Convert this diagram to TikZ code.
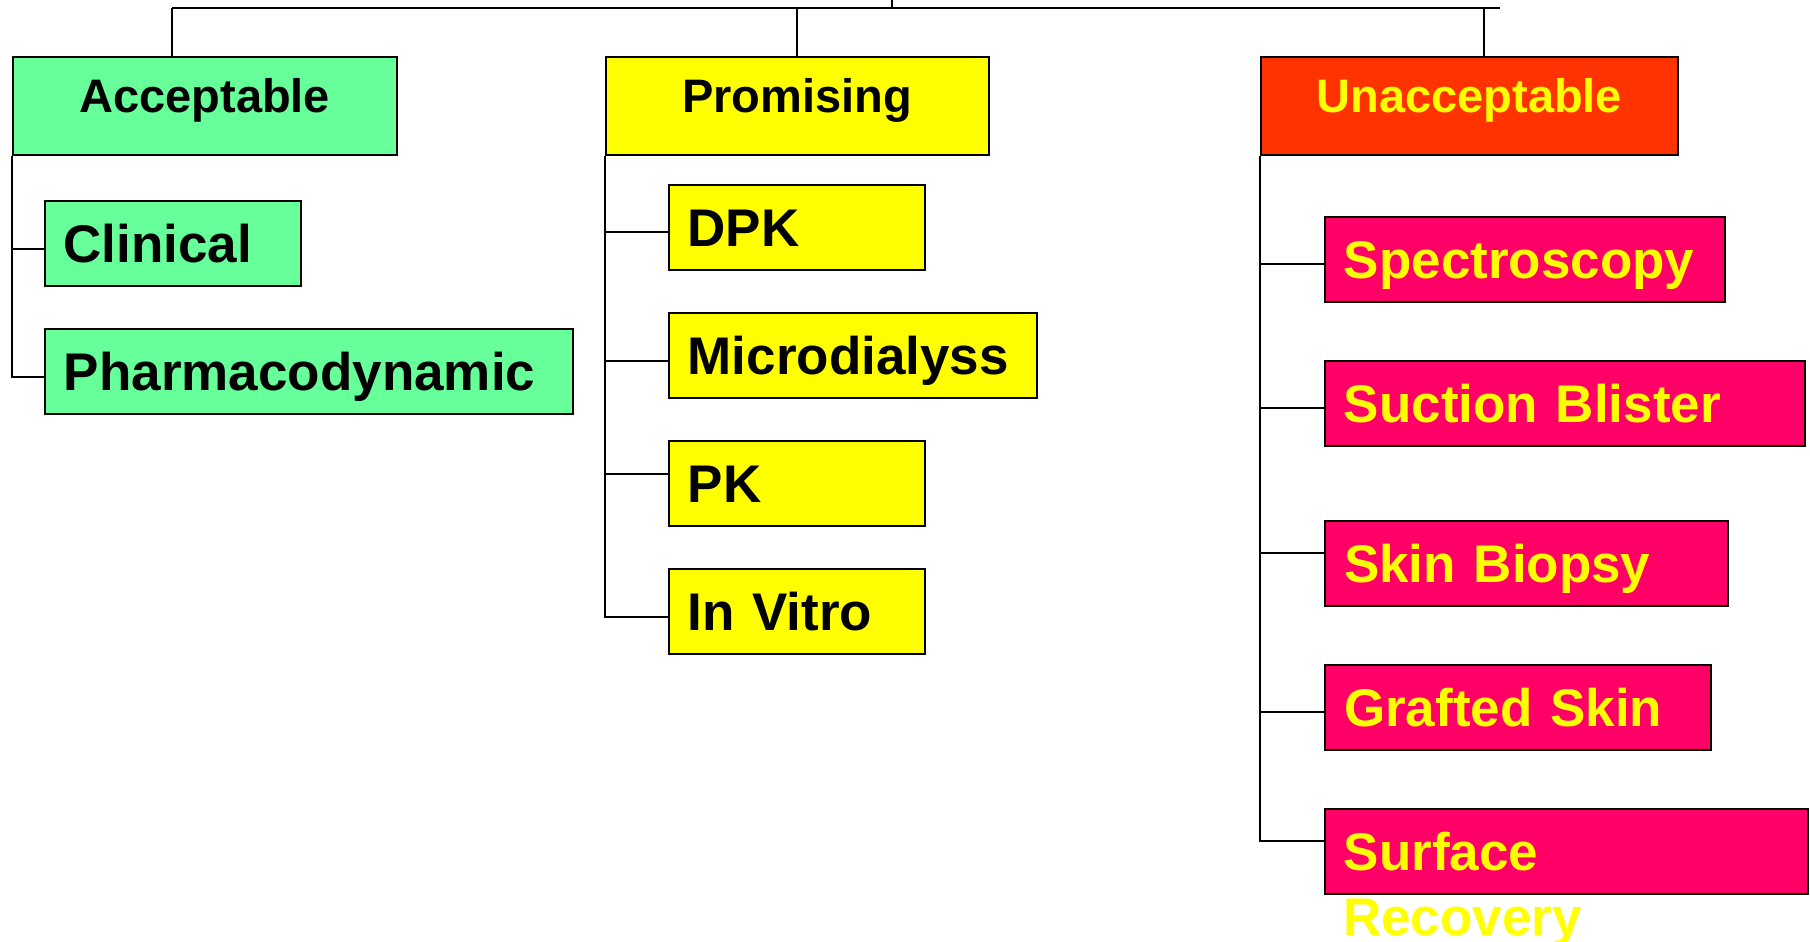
\documentclass[tikz,border=0pt]{standalone}
\usepackage{fontspec}
\setmainfont{Liberation Sans}
\usetikzlibrary{calc}
\definecolor{accgreen}{HTML}{66FF99}
\definecolor{proyellow}{HTML}{FFFF00}
\definecolor{unared}{HTML}{FF3300}
\definecolor{unapink}{HTML}{FF0066}
\begin{document}
\begin{tikzpicture}[x=1pt,y=1pt,
  box/.style={draw=black, line width=2pt, rectangle, anchor=north west, inner sep=0pt,
    font=\bfseries\fontsize{53}{63}\selectfont, text height=38pt, text depth=0pt, minimum height=85pt},
  titlebox/.style={draw=black, line width=2pt, rectangle, anchor=north west, inner sep=0pt,
    font=\bfseries\fontsize{47}{56}\selectfont, text height=34pt, text depth=20pt, minimum height=98.3pt},
  kid/.style={box, align=left, inner xsep=19pt},
  link/.style={line width=2pt}]
\useasboundingbox (0,0) rectangle (1810,-942);

% category boxes
\node[titlebox, fill=accgreen, minimum width=384.5pt] (acc) at (11.5,-55.7) {Acceptable};
\node[titlebox, fill=proyellow, minimum width=383pt] (pro) at (604.5,-55.7) {Promising};
\node[titlebox, fill=unared, text=proyellow, minimum width=416.5pt] (una) at (1260,-55.7) {Unacceptable};

% acceptable children
\node[kid, fill=accgreen, minimum width=256pt, text width=218pt] (clin) at (43.6,-200) {Clinical};
\node[kid, fill=accgreen, minimum width=528.7pt, text width=490pt] (pharm) at (43.6,-327.7) {Pharmacodynamic};

% promising children
\node[kid, fill=proyellow, minimum width=256.2pt, text width=218pt] (dpk) at (667.6,-183.7) {DPK};
\node[kid, fill=proyellow, minimum width=368.3pt, text width=330pt] (micro) at (667.6,-312) {Microdialyss};
\node[kid, fill=proyellow, minimum width=256.2pt, text width=218pt] (pk) at (667.6,-440) {PK};
\node[kid, fill=proyellow, minimum width=256.2pt, text width=218pt] (vitro) at (667.6,-567.7) {In Vitro};

% unacceptable children
\node[kid, fill=unapink, text=proyellow, minimum width=400.3pt, text width=362pt] (spec) at (1323.8,-215.7) {Spectroscopy};
\node[kid, fill=unapink, text=proyellow, minimum width=480.3pt, text width=442pt] (suct) at (1323.8,-359.7) {Suction Blister};
\node[kid, fill=unapink, text=proyellow, minimum width=402.7pt, text width=364pt] (biop) at (1323.8,-520) {Skin Biopsy};
\node[kid, fill=unapink, text=proyellow, minimum width=386.6pt, text width=348pt] (graft) at (1323.8,-663.7) {Grafted Skin};
\node[kid, fill=unapink, text=proyellow, minimum width=483pt, text width=445pt] (surf) at (1323.8,-807.7) {Surface};
\node[anchor=base west, inner sep=0pt, font=\bfseries\fontsize{53}{63}\selectfont, text=proyellow] (rec)
  at ($(surf.south west)+(19,-40.6)$) {Recovery};

% top bus
\coordinate (root) at (892,0);
\coordinate (busL) at (172,-8);
\coordinate (busR) at (1500,-8);
\coordinate (dropU) at (1484,-8);
\draw[link] (busL) -- (busR);
\draw[link] (root) -- (root |- busL);
\draw[link] (busL) -- (busL |- acc.north);
\draw[link] (pro.north |- busL) -- (pro.north);
\draw[link] (dropU) -- (dropU |- una.north);

% child connectors (attach heights as in the reference)
\foreach \k/\dy in {clin/-5,pharm/-6} \draw[link] ([yshift=\dy pt]\k.west) -| (acc.south west);
\foreach \k/\dy in {dpk/-5,micro/-5,pk/10,vitro/-6} \draw[link] ([yshift=\dy pt]\k.west) -| (pro.south west);
\foreach \k/\dy in {spec/-5,suct/-5,biop/11,graft/-5,surf/10.5} \draw[link] ([yshift=\dy pt]\k.west) -| (una.south west);
\end{tikzpicture}
\end{document}
